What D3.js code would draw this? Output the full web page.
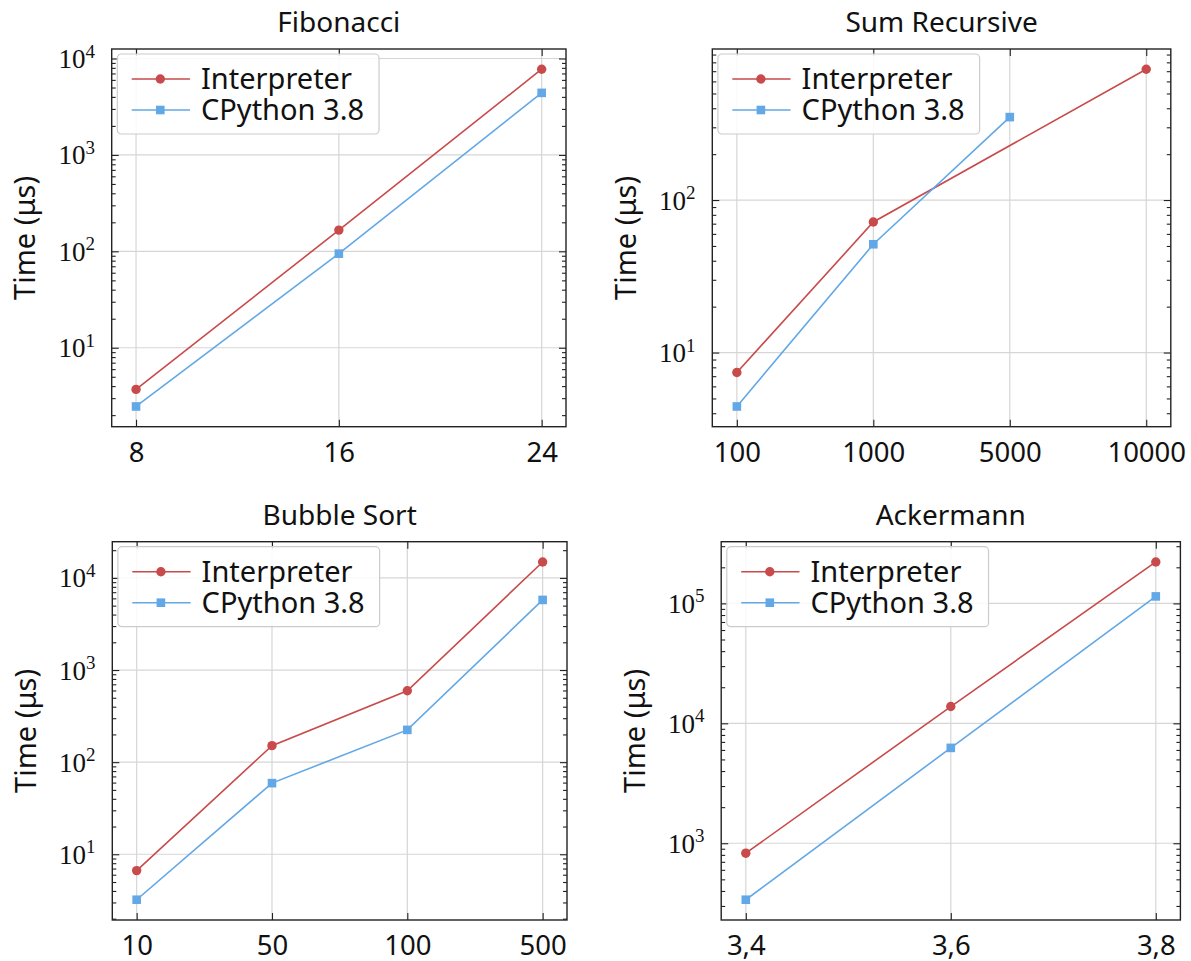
<!DOCTYPE html>
<html>
<head>
<meta charset="utf-8">
<script src="https://cdn.jsdelivr.net/npm/d3@7"></script>
<style>
  body { margin: 0; background: #fff; }
  svg { display: block; }
</style>
</head>
<body>
<svg id="chart" width="1191" height="961"></svg>
<script>
// Benchmark inputs (x categories) and run times in microseconds
const fibN = ["8", "16", "24"];
const fibInterpreter = [3.7, 166, 7740];
const fibCPython = [2.46, 94.6, 4400];

const sumN = ["100", "1000", "5000", "10000"];
const sumInterpreter = [7.4, 71.8, null, 721];
const sumCPython = [4.43, 51.3, 350, null];

const bubbleN = ["10", "50", "100", "500"];
const bubbleInterpreter = [6.65, 151, 596, 14900];
const bubbleCPython = [3.21, 59.2, 224, 5770];

const ackN = ["3,4", "3,6", "3,8"];
const ackInterpreter = [826, 13800, 221600];
const ackCPython = [338, 6240, 114400];

const seriesNames = ["Interpreter", "CPython 3.8"];
const seriesColors = ["#c94a4a", "#62a8e6"];
const seriesMarkers = ["circle", "square"];

const SANS = "'Noto Sans', 'Open Sans', sans-serif";
const SERIF = "'Liberation Serif', 'DejaVu Serif', serif";

// Plot frames for the 2x2 grid
const panels = [
  { title: "Fibonacci",     cats: fibN,    series: [fibInterpreter, fibCPython],       frame: { left: 111.7, right: 566,    top: 49,    bottom: 426.7 } },
  { title: "Sum Recursive", cats: sumN,    series: [sumInterpreter, sumCPython],       frame: { left: 712.3, right: 1170.8, top: 49,    bottom: 426.7 } },
  { title: "Bubble Sort",   cats: bubbleN, series: [bubbleInterpreter, bubbleCPython], frame: { left: 112.3, right: 567,    top: 541.7, bottom: 920 } },
  { title: "Ackermann",     cats: ackN,    series: [ackInterpreter, ackCPython],       frame: { left: 721.2, right: 1180.4, top: 541.7, bottom: 920 } }
];

const svg = d3.select("#chart");
svg.append("rect").attr("width", 1191).attr("height", 961).attr("fill", "#fff");

panels.forEach(p => {
  const { left, right, top, bottom } = p.frame;
  const g = svg.append("g");
  const n = p.cats.length;

  // Evenly spaced categories with 6% margins on each side
  const x = d3.scalePoint().domain(p.cats).range([left, right]).padding(0.06 * (n - 1));

  const vals = p.series.flat().filter(v => v != null);
  const lo = Math.log10(d3.min(vals)), hi = Math.log10(d3.max(vals));
  const pad = 0.06 * (hi - lo);
  const y = d3.scaleLog().domain([10 ** (lo - pad), 10 ** (hi + pad)]).range([bottom, top]);

  const [d0, d1] = y.domain();
  const decades = [];
  const minors = [];
  for (let k = Math.floor(Math.log10(d0)); k <= Math.ceil(Math.log10(d1)); k++) {
    const v = 10 ** k;
    if (v >= d0 && v <= d1) decades.push(v);
    for (let m = 2; m <= 9; m++) {
      const mv = m * 10 ** k;
      if (mv >= d0 && mv <= d1) minors.push(mv);
    }
  }

  // Grid
  const grid = g.append("g").attr("stroke", "#d6d6d6").attr("stroke-width", 1.2);
  grid.selectAll("line.h").data(decades).join("line")
    .attr("x1", left).attr("x2", right)
    .attr("y1", d => y(d)).attr("y2", d => y(d));
  grid.selectAll("line.v").data(p.cats).join("line")
    .attr("x1", d => x(d)).attr("x2", d => x(d))
    .attr("y1", top).attr("y2", bottom);

  // Axes with inward ticks on all four sides
  const styleAxis = sel => {
    sel.select(".domain").remove();
    sel.selectAll(".tick line").attr("stroke", "#222").attr("stroke-width", 1.1);
  };

  const bottomAxis = g.append("g").attr("transform", `translate(0,${bottom})`)
    .call(d3.axisBottom(x).tickSizeInner(-7).tickSizeOuter(0).tickPadding(15.5));
  styleAxis(bottomAxis);
  bottomAxis.selectAll(".tick text")
    .attr("font-family", SANS).attr("font-size", 27.5).attr("fill", "#111");

  const topAxis = g.append("g").attr("transform", `translate(0,${top})`)
    .call(d3.axisTop(x).tickSizeInner(-7).tickSizeOuter(0).tickFormat(""));
  styleAxis(topAxis);

  const leftMajor = g.append("g").attr("transform", `translate(${left},0)`)
    .call(d3.axisLeft(y).tickValues(decades).tickSizeInner(-7).tickSizeOuter(0).tickFormat(""));
  styleAxis(leftMajor);
  const leftMinor = g.append("g").attr("transform", `translate(${left},0)`)
    .call(d3.axisLeft(y).tickValues(minors).tickSizeInner(-4).tickSizeOuter(0).tickFormat(""));
  styleAxis(leftMinor);

  const rightMajor = g.append("g").attr("transform", `translate(${right},0)`)
    .call(d3.axisRight(y).tickValues(decades).tickSizeInner(-7).tickSizeOuter(0).tickFormat(""));
  styleAxis(rightMajor);
  const rightMinor = g.append("g").attr("transform", `translate(${right},0)`)
    .call(d3.axisRight(y).tickValues(minors).tickSizeInner(-4).tickSizeOuter(0).tickFormat(""));
  styleAxis(rightMinor);

  // Power-of-ten tick labels
  leftMajor.selectAll(".tick").each(function (d) {
    const t = d3.select(this).append("text")
      .attr("x", -16.7).attr("y", 9)
      .attr("text-anchor", "end")
      .attr("font-family", SERIF).attr("fill", "#111");
    t.append("tspan").attr("font-size", 27).text("10");
    t.append("tspan").attr("font-size", 19).attr("dy", -10.5).text(Math.round(Math.log10(d)));
  });

  // Frame
  g.append("rect")
    .attr("x", left).attr("y", top)
    .attr("width", right - left).attr("height", bottom - top)
    .attr("fill", "none").attr("stroke", "#222").attr("stroke-width", 1.4);

  // Series lines and markers
  const line = d3.line().x(d => x(d.c)).y(d => y(d.v));
  p.series.forEach((vs, i) => {
    const pts = p.cats.map((c, j) => ({ c, v: vs[j] })).filter(d => d.v != null);
    g.append("path").datum(pts)
      .attr("d", line).attr("fill", "none")
      .attr("stroke", seriesColors[i]).attr("stroke-width", 1.6);
    if (seriesMarkers[i] === "circle") {
      g.selectAll(null).data(pts).join("circle")
        .attr("cx", d => x(d.c)).attr("cy", d => y(d.v)).attr("r", 4.7)
        .attr("fill", seriesColors[i]);
    } else {
      g.selectAll(null).data(pts).join("rect")
        .attr("x", d => x(d.c) - 4.3).attr("y", d => y(d.v) - 4.3)
        .attr("width", 8.6).attr("height", 8.6)
        .attr("fill", seriesColors[i]);
    }
  });

  // Title
  g.append("text")
    .attr("x", (left + right) / 2).attr("y", top - 16.7)
    .attr("text-anchor", "middle")
    .attr("font-family", SANS).attr("font-size", 28).attr("fill", "#111")
    .text(p.title);

  // Y axis label
  g.append("text")
    .attr("transform", `translate(${left - 76.7},${(top + bottom) / 2}) rotate(-90)`)
    .attr("text-anchor", "middle")
    .attr("font-family", SANS).attr("font-size", 29).attr("fill", "#111")
    .text("Time (μs)");

  // Legend
  const lg = g.append("g").attr("transform", `translate(${left + 5.6},${top + 5})`);
  const box = lg.append("rect")
    .attr("x", 0).attr("y", 0).attr("height", 80).attr("rx", 4)
    .attr("fill", "#fff").attr("fill-opacity", 0.85)
    .attr("stroke", "#cccccc").attr("stroke-width", 1.2);
  let maxRight = 0;
  seriesNames.forEach((name, i) => {
    const ry = 25 + i * 31;
    lg.append("line")
      .attr("x1", 14.4).attr("x2", 72.7).attr("y1", ry).attr("y2", ry)
      .attr("stroke", seriesColors[i]).attr("stroke-width", 1.6);
    if (seriesMarkers[i] === "circle") {
      lg.append("circle").attr("cx", 43).attr("cy", ry).attr("r", 4.7).attr("fill", seriesColors[i]);
    } else {
      lg.append("rect").attr("x", 43 - 4.3).attr("y", ry - 4.3)
        .attr("width", 8.6).attr("height", 8.6).attr("fill", seriesColors[i]);
    }
    const t = lg.append("text")
      .attr("x", 83.7).attr("y", ry + 10.3)
      .attr("font-family", SANS).attr("font-size", 29).attr("fill", "#111")
      .text(name);
    const bb = t.node().getBBox();
    maxRight = Math.max(maxRight, bb.x + bb.width);
  });
  box.attr("width", maxRight + 15);
});
</script>
</body>
</html>
